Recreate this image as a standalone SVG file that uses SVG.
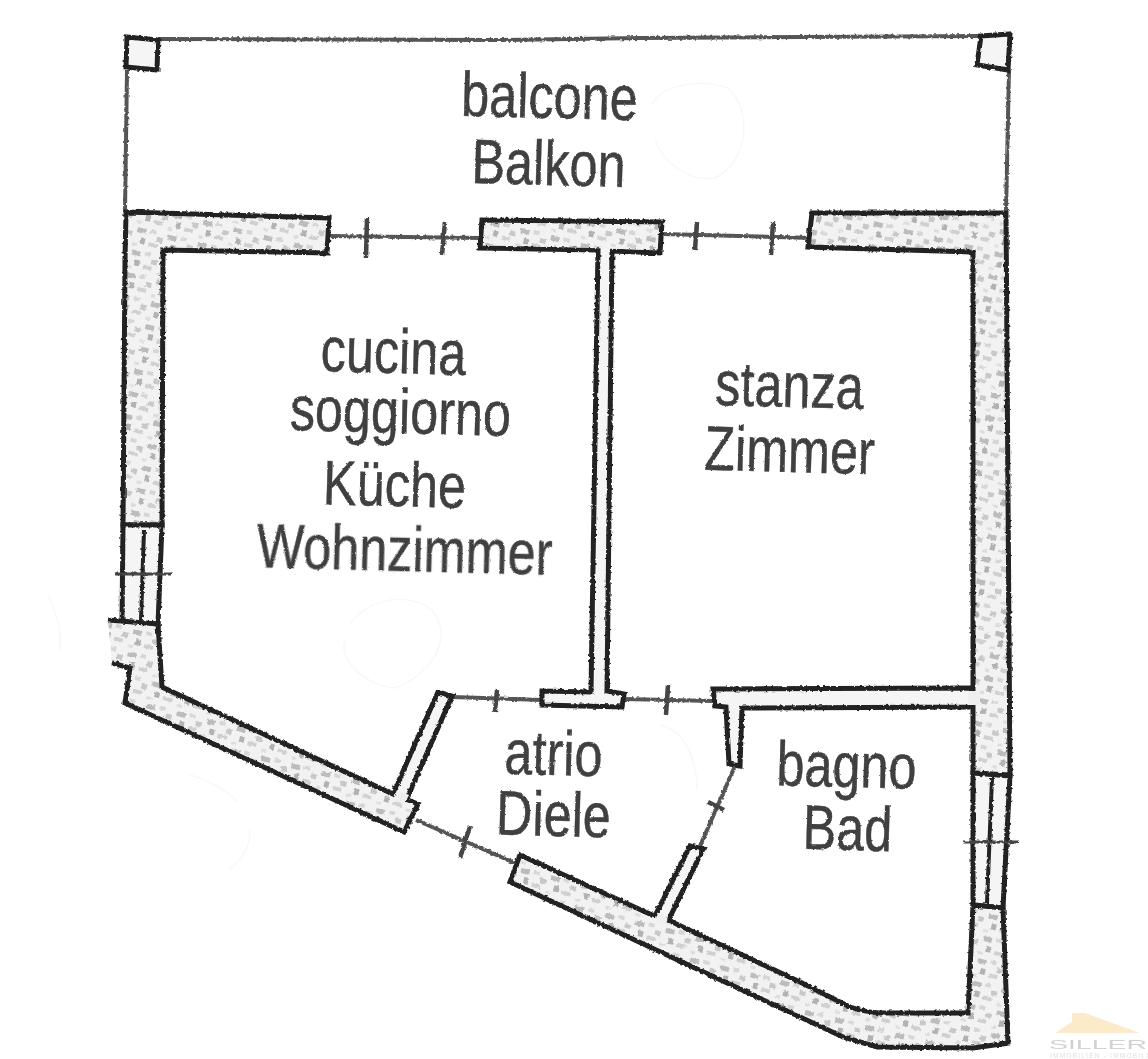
<svg xmlns="http://www.w3.org/2000/svg" width="1148" height="1059" viewBox="0 0 1148 1059">
<defs>
<pattern id="mottle" width="31" height="23" patternUnits="userSpaceOnUse" patternTransform="rotate(14)">
<rect width="31" height="23" fill="#f2f2f2"/>
<rect x="3" y="3" width="9" height="5" fill="#bcbcbc"/>
<rect x="16" y="2" width="6" height="4" fill="#d6d6d6"/>
<rect x="24" y="8" width="6" height="5" fill="#c8c8c8"/>
<rect x="8" y="12" width="5" height="6" fill="#b2b2b2"/>
<rect x="17" y="15" width="9" height="4" fill="#d0d0d0"/>
<rect x="1" y="19" width="5" height="3" fill="#dddddd"/>
</pattern>
<filter id="rough" x="-5%" y="-5%" width="110%" height="110%">
<feTurbulence type="fractalNoise" baseFrequency="0.35" numOctaves="1" seed="4" result="n"/>
<feDisplacementMap in="SourceGraphic" in2="n" scale="3.500" xChannelSelector="R" yChannelSelector="G"/>
<feGaussianBlur stdDeviation="0.6"/>
</filter>
<filter id="roughText" x="-5%" y="-5%" width="110%" height="110%">
<feTurbulence type="fractalNoise" baseFrequency="0.4" numOctaves="1" seed="9" result="n"/>
<feDisplacementMap in="SourceGraphic" in2="n" scale="2.500" xChannelSelector="R" yChannelSelector="G"/>
<feGaussianBlur stdDeviation="0.5"/>
</filter>
<filter id="soft" x="-5%" y="-20%" width="110%" height="140%"><feGaussianBlur stdDeviation="0.5"/></filter>
</defs>
<style>
.wall{fill:url(#mottle);stroke:#222;stroke-width:5;stroke-linejoin:miter}
.fillonly{fill:url(#mottle);stroke:none}
.thin{fill:#f5f5f5;stroke:#222;stroke-width:5;stroke-linejoin:miter}
.edge{fill:none;stroke:#222;stroke-width:5}
.cover{fill:#efefef;stroke:none}
.line{fill:none;stroke:#555;stroke-width:4}
.tick{fill:none;stroke:#444;stroke-width:4.500}
.mull{fill:none;stroke:#222;stroke-width:4}
.ghost{fill:none;stroke:#f8f8f8;stroke-width:1.500}
.room{font-family:"Liberation Sans",Arial,sans-serif;font-size:63px;fill:#3f3f3f;stroke:#3f3f3f;stroke-width:.5;text-anchor:middle}
</style>
<rect width="1148" height="1059" fill="#fff"/>
<g id="ghosts">
<path class="ghost" d="M652 105C660 85 700 78 728 88C752 110 750 160 715 178C690 182 665 165 655 140"/>
<path class="ghost" d="M350 625C365 600 405 590 432 610C455 640 430 675 395 688C365 685 338 660 345 640"/>
<path class="ghost" d="M190 775C210 780 225 790 238 802M250 830C250 850 240 860 230 870"/>
<path class="ghost" d="M660 725C685 730 697 760 697 790"/>
<path class="ghost" d="M48 595C55 610 62 630 60 650"/>
</g>
<g id="connectors" filter="url(#rough)">
<path id="balcony-rail" class="line" d="M158 39L500 40L640 38L981 36"/>
<path class="line" d="M127 70L125 212M1009 70L1006 212"/>
<path class="line" d="M330 236L482 238M662 234L812 238"/>
<path class="tick" d="M367 218L366 258M445 222L442 255M697 222L695 250M773 222L771 255"/>
<path class="line" d="M452 697L542 700M624 699L713 701"/>
<path class="tick" d="M497 690L495 712M668 685L666 715"/>
<path class="line" d="M416 820L515 863"/>
<path class="tick" d="M470 826L460 858"/>
<path class="line" d="M735 766L700 846"/>
<path class="tick" d="M708 802L724 810"/>
</g>
<g id="walls" filter="url(#rough)">
<path id="col-left" class="thin" d="M127 37L158 40L157 70L126 67Z"/>
<path id="col-right" class="thin" d="M981 36L1010 34L1008 70L977 65Z"/>
<path id="wall-t" class="thin" d="M482 220L662 222L660 253L612 251L607 691L624 694L622 707L542 705L542 691L591 692L598 250L480 248Z"/>
<path class="fillonly" d="M485 223L659 225L657 250L483 245Z"/>
<path id="partition-door-top" class="thin" d="M438 692L452 696L405 803L393 794Z"/>
<path id="partition-door-low" class="thin" d="M690 846L703 849L668 921L655 916Z"/>
<path id="wall-bath" class="thin" d="M713 689L972 688L972 707L742 708L740 766L729 764L726 707L715 706Z"/>
<path id="wall-north-left" class="wall" d="M126 212L329 218L327 253L163 250L162 525L123 525L125 260Z"/>
<path id="window-west" class="thin" d="M123 525L162 525L158 624L122 622Z"/>
<path class="mull" d="M144 530L141 620"/>
<path class="tick" d="M115 574L172 574" style="stroke-width:3"/>
<path id="wall-sw-fill" class="fillonly" d="M108 620L158 624L162 687L395 795L418 804L404 832L125 703L130 668L112 663Z"/>
<path id="wall-sw" class="edge" d="M108 620L158 624L162 687L395 795M393 794L418 804L404 832L125 703L130 668L112 663"/>
<path class="cover" d="M397 790L409 795L405 803L393 800Z"/>
<path id="wall-east" class="wall" d="M812 213L1006 213L1010 775L973 773L973 252L808 247Z"/>
<path id="window-east" class="thin" d="M973 773L1010 776L1003 908L973 905Z"/>
<path class="mull" d="M992 778L987 903"/>
<path class="tick" d="M963 842L1019 842" style="stroke-width:3"/>
<path id="wall-south" class="wall" d="M520 855L652 915L668 920L800 982L850 1007Q865 1012 880 1013L968 1013L973 905L1003 908L1008 1043L973 1048L877 1047L843 1037L510 882Z"/>
<path class="cover" d="M658 912L668 916L666 925L655 921Z"/>
<path class="cover" d="M968 691L980 691L980 705L968 705Z"/>
</g>
<g id="labels" filter="url(#roughText)">
<text class="room" transform="translate(549 118) rotate(1.500) scale(.8 1)">balcone</text>
<text class="room" transform="translate(548 185) rotate(1.500) scale(.8 1)">Balkon</text>
<text class="room" transform="translate(393 373) rotate(1.500) scale(.8 1)">cucina</text>
<text class="room" transform="translate(400 433) rotate(1.500) scale(.8 1)">soggiorno</text>
<text class="room" transform="translate(394 506) rotate(1.500) scale(.8 1)">Küche</text>
<text class="room" transform="translate(404 571) rotate(1.500) scale(.8 1)">Wohnzimmer</text>
<text class="room" transform="translate(789 407) rotate(1.500) scale(.8 1)">stanza</text>
<text class="room" transform="translate(789 472) rotate(1.500) scale(.8 1)">Zimmer</text>
<text class="room" transform="translate(553 775) rotate(1.500) scale(.8 1)">atrio</text>
<text class="room" transform="translate(553 836) rotate(1.500) scale(.8 1)">Diele</text>
<text class="room" transform="translate(846 787) rotate(1.500) scale(.8 1)">bagno</text>
<text class="room" transform="translate(847 850) rotate(1.500) scale(.8 1)">Bad</text>
</g>
<g id="logo" filter="url(#soft)">
<path fill="#fdeacb" d="M1055 1033L1072 1022L1072 1013L1085 1013L1140 1033Z"/>
<text x="1049" y="1049" font-family="Liberation Sans,Arial,sans-serif" font-size="13" textLength="98" lengthAdjust="spacingAndGlyphs" fill="#d2d2d2">SILLER</text>
<text x="1050" y="1058" font-family="Liberation Sans,Arial,sans-serif" font-size="6.500" textLength="98" lengthAdjust="spacing" fill="#dedede">IMMOBILIEN - IMMOBILI</text>
</g>
</svg>
